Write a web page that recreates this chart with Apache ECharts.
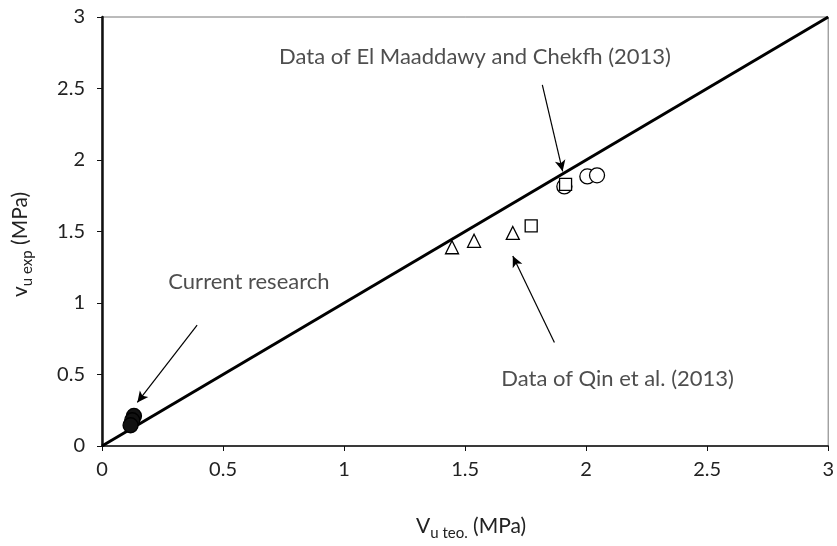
<!DOCTYPE html>
<html><head><meta charset="utf-8">
<script src="https://cdn.jsdelivr.net/npm/echarts@6/dist/echarts.min.js"></script>
<style>html,body{margin:0;padding:0;background:#fff}#c{width:837px;height:546px}</style>
</head><body><div id="c"></div>
<script>
const xTicks = [0, 0.5, 1, 1.5, 2, 2.5, 3];
const yTicks = [0, 0.5, 1, 1.5, 2, 2.5, 3];
const currentResearch = [[0.132, 0.21], [0.125, 0.18], [0.118, 0.145]];
const elMaaddawyCircles = [[1.91, 1.815], [2.005, 1.885], [2.045, 1.893]];
const qinSquares = [[1.915, 1.83], [1.773, 1.54]];
const qinTriangles = [[1.446, 1.39], [1.537, 1.435], [1.697, 1.49]];
const equalityLine = [[0, 0], [3, 3]];
const arrows = [
  [[1.819, 2.526], [1.903, 1.921]],
  [[0.393, 0.846], [0.146, 0.305]],
  [[1.869, 0.723], [1.697, 1.328]]
];
const annotations = [
  {text: 'Data of El Maaddawy and Chekfh (2013)', x: 1.541, y: 2.72},
  {text: 'Current research', x: 0.607, y: 1.15},
  {text: 'Data of Qin et al. (2013)', x: 2.13, y: 0.47}
];

const FONT = 'Lato';
const chart = echarts.init(document.getElementById('c'));
const richX = {
  m: {fontSize: 21, fontFamily: FONT, color: '#222', verticalAlign: 'top', lineHeight: 26},
  f: {fontSize: 21, fontFamily: FONT, color: '#222', verticalAlign: 'top', lineHeight: 26, padding: [0, 0, 0, 12]},
  s: {fontSize: 15, fontFamily: FONT, color: '#222', verticalAlign: 'top', lineHeight: 26, padding: [10, 0, 0, 0]}
};
const richY = {
  m: {fontSize: 21, fontFamily: FONT, color: '#222', verticalAlign: 'top', lineHeight: 26},
  e: {fontSize: 21, fontFamily: FONT, color: '#222', verticalAlign: 'top', lineHeight: 26, padding: [0, 26, 0, 0]},
  s: {fontSize: 15, fontFamily: FONT, color: '#222', verticalAlign: 'top', lineHeight: 26, padding: [10, 0, 0, 0]}
};
const mk = (symbol, size, fill) => ({
  type: 'scatter', symbol, symbolSize: size, z: 5,
  itemStyle: {color: fill, borderColor: '#000', borderWidth: 1.3, opacity: 1}
});
chart.setOption({
  animation: false,
  backgroundColor: '#fff',
  grid: {left: 102, right: 8, top: 17, bottom: 99, show: true, borderColor: '#777', borderWidth: 1},
  xAxis: {
    type: 'value', min: 0, max: 3, interval: 0.5,
    axisLine: {show: true, onZero: false, lineStyle: {color: '#111', width: 1.5}},
    axisTick: {show: true, length: 5, lineStyle: {color: '#111'}},
    splitLine: {show: false},
    axisLabel: {fontSize: 20, fontFamily: FONT, color: '#222', margin: 14,
      formatter: v => xTicks.includes(v) ? String(v) : ''},
    name: '{f|V}{s|u teo.}{m| (MPa)}', nameLocation: 'middle', nameGap: 70,
    nameTextStyle: {rich: richX}
  },
  yAxis: {
    type: 'value', min: 0, max: 3, interval: 0.5,
    axisLine: {show: true, onZero: false, lineStyle: {color: '#111', width: 2.5}},
    axisTick: {show: true, length: 5, lineStyle: {color: '#111'}},
    splitLine: {show: false},
    axisLabel: {fontSize: 20, fontFamily: FONT, color: '#222', margin: 17,
      formatter: v => yTicks.includes(v) ? String(v) : ''},
    name: '{m|v}{s|u exp}{e| (MPa)}', nameLocation: 'middle', nameGap: 66,
    nameTextStyle: {rich: richY}
  },
  series: [
    {type: 'line', data: equalityLine, symbol: 'none', z: 3,
      lineStyle: {color: '#000', width: 3}},
    Object.assign(mk('circle', 15, '#fff'), {data: elMaaddawyCircles}),
    Object.assign(mk('rect', 12, '#fff'), {data: qinSquares}),
    Object.assign(mk('triangle', 13, '#fff'), {data: qinTriangles}),
    Object.assign(mk('circle', 15, '#111'), {data: currentResearch}),
    {type: 'line', data: [], z: 4,
      markLine: {silent: true, symbol: ['none', 'arrow'], symbolSize: [8, 11],
        label: {show: false}, lineStyle: {color: '#000', width: 1.2, type: 'solid'},
        data: arrows.map(a => [{coord: a[0]}, {coord: a[1]}])}},
    {type: 'scatter', symbolSize: 0, z: 6, silent: true,
      data: annotations.map(a => ({value: [a.x, a.y], name: a.text})),
      label: {show: true, position: 'inside', formatter: p => p.name,
        fontSize: 22, fontFamily: FONT, color: '#222'}}
  ]
});
</script></body></html>
